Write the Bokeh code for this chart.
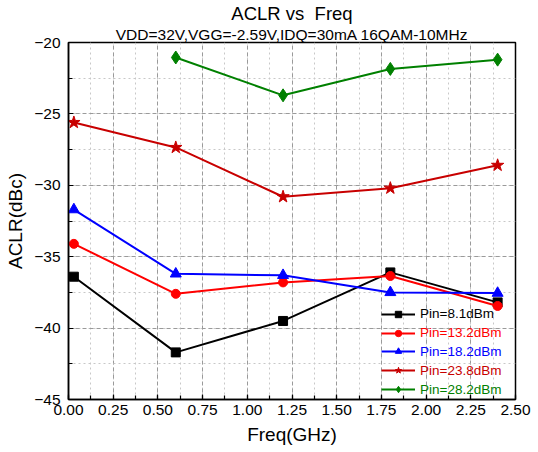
from bokeh.plotting import figure
from bokeh.models import (ColumnDataSource, Legend, LegendItem, Title,
                          NumeralTickFormatter, FixedTicker, Range1d)
from bokeh.embed import file_html
from bokeh.resources import INLINE

# ACLR measurements vs frequency for several input power levels
freq = [0.03, 0.6, 1.2, 1.8, 2.4]
aclr_8p1 = [-36.4, -41.7, -39.5, -36.1, -38.2]
aclr_13p2 = [-34.1, -37.6, -36.8, -36.35, -38.45]
aclr_18p2 = [-31.7, -36.2, -36.3, -37.5, -37.55]
aclr_23p8 = [-25.6, -27.35, -30.8, -30.2, -28.6]
freq_28p2 = [0.6, 1.2, 1.8, 2.4]
aclr_28p2 = [-21.05, -23.7, -21.85, -21.2]

labels = ["Pin=8.1dBm", "Pin=13.2dBm", "Pin=18.2dBm", "Pin=23.8dBm", "Pin=28.2dBm"]
x_ticks = [0.0, 0.25, 0.5, 0.75, 1.0, 1.25, 1.5, 1.75, 2.0, 2.25, 2.5]
y_ticks = [-45, -40, -35, -30, -25, -20]

FONT = "Liberation Sans"

p = figure(width=538, height=452, output_backend="svg", toolbar_location=None,
           x_range=Range1d(0, 2.5), y_range=Range1d(-45, -20),
           min_border_left=68, min_border_right=23,
           min_border_top=41, min_border_bottom=53, title=None)
p.background_fill_color = "white"
p.border_fill_color = "white"
p.outline_line_color = "black"
p.outline_line_width = 1.5

# titles: first added sits closest to the frame
p.add_layout(Title(text="VDD=32V,VGG=-2.59V,IDQ=30mA 16QAM-10MHz", align="center",
                   text_font=FONT, text_font_size="15.5px", text_font_style="normal",
                   text_color="black", standoff=0, offset=0), "above")
p.add_layout(Title(text="ACLR vs\u00a0 Freq", align="center",
                   text_font=FONT, text_font_size="18.5px", text_font_style="normal",
                   text_color="black", standoff=0, offset=0), "above")

for ax in (p.xaxis[0], p.yaxis[0]):
    ax.axis_line_width = 1.5
    ax.major_tick_in = 5
    ax.major_tick_out = 0
    ax.minor_tick_in = 4
    ax.minor_tick_out = 0
    ax.major_tick_line_width = 1.2
    ax.minor_tick_line_width = 1.2
    ax.major_label_text_font = FONT
    ax.major_label_text_font_size = "15.5px"
    ax.major_label_text_color = "black"
    ax.axis_label_text_font = FONT
    ax.axis_label_text_font_size = "19px"
    ax.axis_label_text_font_style = "normal"
    ax.axis_label_text_color = "black"

p.xaxis[0].ticker = FixedTicker(ticks=x_ticks,
                                minor_ticks=[i * 0.125 for i in range(21)])
p.yaxis[0].ticker = FixedTicker(ticks=y_ticks,
                                minor_ticks=[-45 + i * 2.5 for i in range(11)])
p.xaxis[0].formatter = NumeralTickFormatter(format="0.00")
p.xaxis[0].axis_label = "Freq(GHz)"
p.yaxis[0].axis_label = "ACLR(dBc)"
p.xaxis[0].major_label_standoff = 5
p.xaxis[0].axis_label_standoff = 6
p.yaxis[0].major_label_standoff = 8
p.yaxis[0].axis_label_standoff = 5

for g in (p.xgrid[0], p.ygrid[0]):
    g.grid_line_color = "#9a9a9a"
    g.grid_line_dash = "4 3"
    g.grid_line_width = 1
    g.minor_grid_line_color = "#c8c8c8"
    g.minor_grid_line_dash = "2 3"
    g.minor_grid_line_width = 1

series = [
    (freq, aclr_8p1, "black", "square", 9),
    (freq, aclr_13p2, "#FF0000", "circle", 9),
    (freq, aclr_18p2, "#0000FF", "triangle", 11),
    (freq, aclr_23p8, "#C80000", "star", 13),
    (freq_28p2, aclr_28p2, "#008000", "diamond", 13),
]

renderers = []
for xs, ys, color, marker, size in series:
    src = ColumnDataSource(dict(x=xs, y=ys))
    ln = p.line("x", "y", source=src, line_color=color, line_width=2)
    mk = p.scatter("x", "y", source=src, marker=marker, size=size,
                   fill_color=color, line_color=color)
    renderers.append((ln, mk, color))

# one legend per series so each label keeps its series colour
row_step = 18.8
for i, ((ln, mk, color), lab) in enumerate(zip(renderers, labels)):
    leg = Legend(items=[LegendItem(label=lab, renderers=[ln, mk])],
                 location=(313, 2 + row_step * (len(labels) - 1 - i)),
                 label_text_color=color, label_text_font=FONT,
                 label_text_font_size="13.5px",
                 glyph_width=34, glyph_height=16, label_height=16,
                 label_standoff=5, padding=0, margin=0, spacing=0,
                 border_line_alpha=0, background_fill_alpha=0)
    p.add_layout(leg, "center")

open("out.html", "w").write(file_html(p, INLINE))
